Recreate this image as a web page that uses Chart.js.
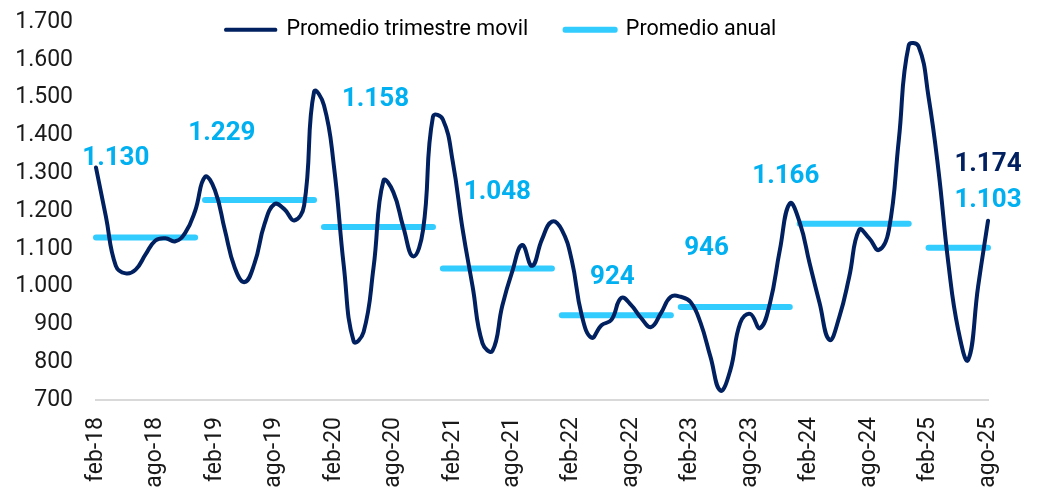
<!DOCTYPE html>
<html>
<head>
<meta charset="utf-8">
<script src="https://cdn.jsdelivr.net/npm/chart.js@4.4.1/dist/chart.umd.min.js"></script>
<style>
html,body{margin:0;padding:0;background:#ffffff;}
#wrap{width:1037px;height:491px;position:relative;}
</style>
</head>
<body>
<div id="wrap"><canvas id="c" width="1037" height="491"></canvas></div>
<script>
// ---------- DATA ----------
const categories = [
  'feb-18','mar-18','abr-18','may-18','jun-18','jul-18','ago-18','sep-18','oct-18','nov-18','dic-18',
  'ene-19','feb-19','mar-19','abr-19','may-19','jun-19','jul-19','ago-19','sep-19','oct-19','nov-19','dic-19',
  'ene-20','feb-20','mar-20','abr-20','may-20','jun-20','jul-20','ago-20','sep-20','oct-20','nov-20','dic-20',
  'ene-21','feb-21','mar-21','abr-21','may-21','jun-21','jul-21','ago-21','sep-21','oct-21','nov-21','dic-21',
  'ene-22','feb-22','mar-22','abr-22','may-22','jun-22','jul-22','ago-22','sep-22','oct-22','nov-22','dic-22',
  'ene-23','feb-23','mar-23','abr-23','may-23','jun-23','jul-23','ago-23','sep-23','oct-23','nov-23','dic-23',
  'ene-24','feb-24','mar-24','abr-24','may-24','jun-24','jul-24','ago-24','sep-24','oct-24','nov-24','dic-24',
  'ene-25','feb-25','mar-25','abr-25','may-25','jun-25','jul-25','ago-25'
];

const promedioTrimestreMovil = [
  1315, 1185, 1055, 1035, 1045, 1085, 1122, 1128, 1120, 1142, 1200,
  1290, 1255, 1150, 1050, 1012, 1062, 1165, 1218, 1205, 1175, 1215, 1515,
  1480, 1320, 1055, 855, 880, 1050, 1280, 1250, 1158, 1080, 1150, 1450,
  1442, 1330, 1150, 1000, 850, 830, 950, 1040, 1110, 1055, 1125, 1172,
  1150, 1070, 925, 865, 898, 912, 970, 951, 917, 893, 930, 973,
  973, 959, 904, 814, 725, 779, 904, 928, 890, 956, 1097, 1220,
  1170, 1062, 957, 859, 920, 1026, 1150, 1128, 1097, 1150, 1388, 1638,
  1635, 1502, 1308, 1062, 885, 806, 1000, 1174
];

const annualYears = ['2018','2019','2020','2021','2022','2023','2024','2025'];
const promedioAnual = [1130, 1229, 1158, 1048, 924, 946, 1166, 1103];
const annualFrom = ['feb-18','ene-19','ene-20','ene-21','ene-22','ene-23','ene-24','feb-25'];
const annualTo   = ['dic-18','dic-19','dic-20','dic-21','dic-22','dic-23','dic-24','ago-25'];

const xTickLabels = ['feb-18','ago-18','feb-19','ago-19','feb-20','ago-20','feb-21','ago-21',
  'feb-22','ago-22','feb-23','ago-23','feb-24','ago-24','feb-25','ago-25'];
const yTickValues = [700, 800, 900, 1000, 1100, 1200, 1300, 1400, 1500, 1600, 1700];

// label anchors (category index, value) for the annual labels
const annualLabelAnchor = [
  [2.0, 1340], [12.7, 1406], [28.2, 1494], [40.5, 1248],
  [52.1, 1023], [61.6, 1102], [69.6, 1290], [90.0, 1229]
];
const lastLabelAnchor = [90.0, 1322];

// ---------- STYLE ----------
const NAVY = '#002060';
const CYAN = '#33CCFF';
const CYAN_TXT = '#00B0F0';
const FONT = 'Roboto';

function fmt(v) {
  return String(Math.round(v)).replace(/\B(?=(\d{3})+(?!\d))/g, '.');
}

const annualDatasets = promedioAnual.map((avg, k) => {
  const a = categories.indexOf(annualFrom[k]);
  const b = categories.indexOf(annualTo[k]);
  return {
    label: 'Promedio anual',
    data: categories.map((_, i) => (i >= a && i <= b) ? avg : null),
    borderColor: CYAN,
    backgroundColor: CYAN,
    borderWidth: 6,
    borderCapStyle: 'round',
    pointRadius: 0,
    pointHoverRadius: 0,
    tension: 0,
    spanGaps: false,
    order: 2
  };
});

const labelsPlugin = {
  id: 'valueLabels',
  afterDatasetsDraw(chart) {
    const ctx = chart.ctx;
    const xs = chart.scales.x, ys = chart.scales.y;
    ctx.save();
    ctx.font = 'bold 26px ' + FONT;
    ctx.textAlign = 'center';
    ctx.textBaseline = 'middle';
    ctx.fillStyle = CYAN_TXT;
    promedioAnual.forEach((v, k) => {
      const [ix, vy] = annualLabelAnchor[k];
      ctx.fillText(fmt(v), xs.getPixelForValue(ix), ys.getPixelForValue(vy));
    });
    ctx.fillStyle = NAVY;
    const last = promedioTrimestreMovil[promedioTrimestreMovil.length - 1];
    ctx.fillText(fmt(last), xs.getPixelForValue(lastLabelAnchor[0]), ys.getPixelForValue(lastLabelAnchor[1]));
    ctx.restore();
  }
};

const legendPlace = {
  id: 'legendPlace',
  beforeUpdate(chart) {
    const lg = chart.legend;
    if (lg && !lg._patchedH) {
      lg.isHorizontal = () => true;
      lg._patchedH = true;
    }
  },
  afterLayout(chart) {
    const lg = chart.legend;
    if (!lg) return;
    lg.left = 0;
    lg.right = 1002;
    lg.top = -18;
  }
};

new Chart(document.getElementById('c'), {
  type: 'line',
  data: {
    labels: categories,
    datasets: [
      {
        label: 'Promedio trimestre movil',
        data: promedioTrimestreMovil,
        borderColor: NAVY,
        backgroundColor: NAVY,
        borderWidth: 4,
        pointRadius: 0,
        pointHoverRadius: 0,
        tension: 0.45,
        borderCapStyle: 'round',
        borderJoinStyle: 'round',
        order: 1
      },
      ...annualDatasets
    ]
  },
  options: {
    responsive: false,
    devicePixelRatio: 1,
    animation: false,
    layout: { padding: { left: 0, right: 49, top: 22, bottom: 0 } },
    plugins: {
      tooltip: { enabled: false },
      legend: {
        position: 'chartArea',
        fullSize: false,
        align: 'center',
        labels: {
          font: { family: FONT, size: 21.5 },
          color: '#1a1a1a',
          boxWidth: 50,
          boxHeight: 1,
          padding: 37,
          generateLabels: () => [
            { text: 'Promedio trimestre movil', fillStyle: NAVY, strokeStyle: NAVY, lineWidth: 3, lineJoin: 'round', datasetIndex: 0, hidden: false },
            { text: 'Promedio anual', fillStyle: CYAN, strokeStyle: CYAN, lineWidth: 5, lineJoin: 'round', datasetIndex: 1, hidden: false }
          ]
        }
      }
    },
    scales: {
      x: {
        type: 'category',
        offset: false,
        grid: { display: false, drawTicks: false },
        border: { display: true, color: '#D9D9D9', width: 2 },
        ticks: {
          autoSkip: false,
          minRotation: 90,
          maxRotation: 90,
          padding: 17,
          color: '#1a1a1a',
          font: { family: FONT, size: 23 },
          callback: function (val, idx) {
            const lab = categories[idx];
            return xTickLabels.includes(lab) ? lab : '';
          }
        },
        afterFit(scale) { scale.height = 91; scale.paddingLeft = 0; scale.paddingRight = 0; }
      },
      y: {
        min: 700,
        max: 1700,
        grid: { display: false, drawTicks: false },
        border: { display: false },
        afterBuildTicks(scale) { scale.ticks = yTickValues.map(v => ({ value: v })); },
        ticks: {
          padding: 23,
          color: '#1a1a1a',
          font: { family: FONT, size: 23 },
          callback: (v) => fmt(v)
        },
        afterFit(scale) { scale.width = 96; scale.paddingTop = 0; scale.paddingBottom = 0; }
      }
    }
  },
  plugins: [labelsPlugin, legendPlace]
});
</script>
</body>
</html>
